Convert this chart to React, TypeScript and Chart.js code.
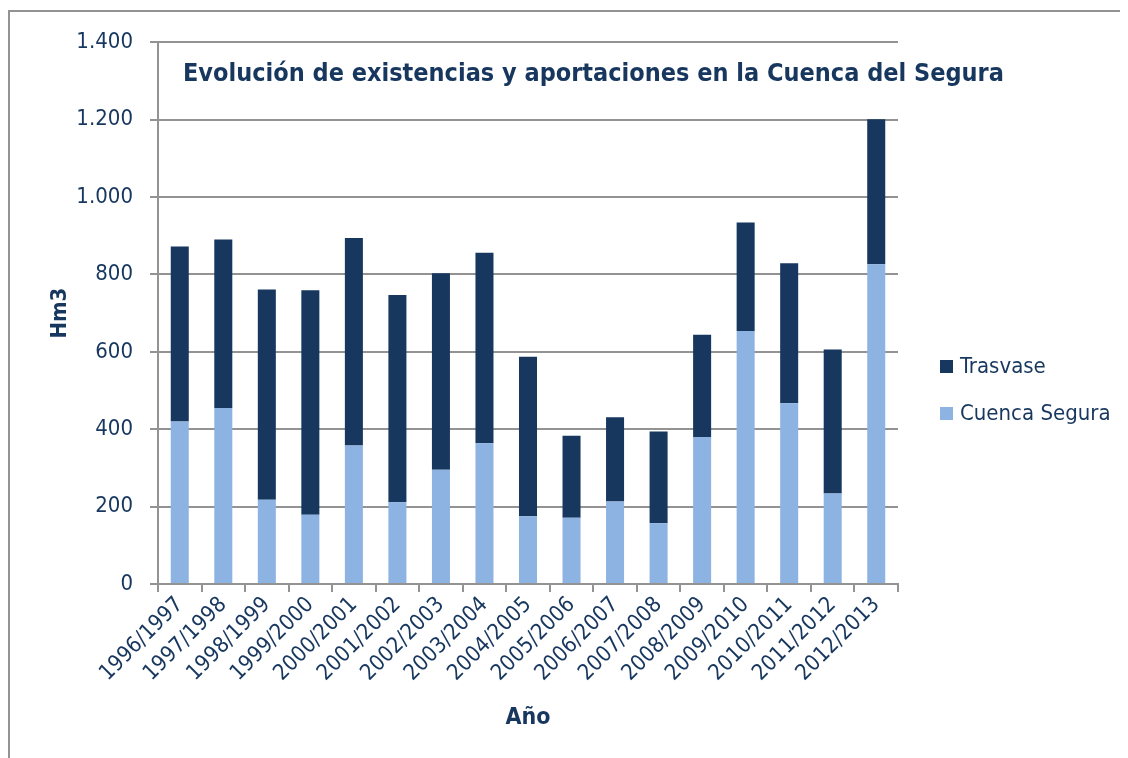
import { useEffect, useRef } from 'react';
import { Chart, registerables } from 'chart.js';

Chart.register(...registerables);

const categories = [
  '1996/1997', '1997/1998', '1998/1999', '1999/2000', '2000/2001', '2001/2002',
  '2002/2003', '2003/2004', '2004/2005', '2005/2006', '2006/2007', '2007/2008',
  '2008/2009', '2009/2010', '2010/2011', '2011/2012', '2012/2013',
];
const cuencaSegura = [420, 455, 218, 179, 358, 211, 295, 364, 175, 171, 213, 157, 380, 654, 467, 234, 826];
const trasvase = [452, 435, 543, 580, 536, 536, 508, 492, 412, 212, 218, 237, 264, 280, 362, 372, 375];
const yTicks = [0, 200, 400, 600, 800, 1000, 1200, 1400];

const TITLE = 'Evolución de existencias y aportaciones en la Cuenca del Segura';
const NAVY = '#17375E';
const LIGHT = '#8DB3E2';
const GRID = '#939393';
const FONT = '"Liberation Sans Narrow", "Arial Narrow", "DejaVu Sans Condensed", sans-serif';

const W = 1118;
const H = 746;

const overlay = {
  id: 'overlay',
  afterDraw(chart: any) {
    const ctx = chart.ctx;
    ctx.save();
    ctx.fillStyle = NAVY;
    ctx.font = `bold 25px ${FONT}`;
    ctx.textAlign = 'left';
    ctx.textBaseline = 'middle';
    ctx.fillText(TITLE, 173, 62);
    // legend
    const ds = chart.data.datasets.slice().reverse();
    ctx.font = `22px ${FONT}`;
    ds.forEach((d: any, i: number) => {
      const y = 355 + i * 47;
      ctx.fillStyle = d.backgroundColor;
      ctx.fillRect(930, y - 7, 13, 13);
      ctx.fillStyle = NAVY;
      ctx.fillText(d.label, 950, y);
    });
    ctx.restore();
  },
};

export default function App() {
  const ref = useRef<HTMLCanvasElement>(null);
  useEffect(() => {
    document.documentElement.style.overflow = 'hidden';
    const chart = new Chart(ref.current!, {
      type: 'bar',
      data: {
        labels: categories,
        datasets: [
          { label: 'Cuenca Segura', data: cuencaSegura, backgroundColor: LIGHT, barPercentage: 0.414, categoryPercentage: 1 },
          { label: 'Trasvase', data: trasvase, backgroundColor: NAVY, barPercentage: 0.414, categoryPercentage: 1 },
        ],
      },
      options: {
        animation: false,
        responsive: false,
        layout: { padding: { top: 28, right: 230, bottom: 23, left: 0 } },
        plugins: {
          legend: { display: false },
          tooltip: { enabled: false },
          title: { display: false },
        },
        scales: {
          x: {
            stacked: true,
            grid: { drawOnChartArea: false, drawTicks: true, tickLength: 8, color: GRID, lineWidth: 2 },
            border: { color: GRID, width: 2 },
            ticks: {
              autoSkip: false, minRotation: 45, maxRotation: 45, padding: 0,
              color: NAVY, font: { family: FONT, size: 22 },
            },
            title: {
              display: true, text: 'Año', color: NAVY,
              font: { family: FONT, size: 23, weight: 'bold' },
              padding: { top: 0, bottom: 3 },
            },
            afterFit: (s: any) => { s.height = 151; },
          },
          y: {
            stacked: true,
            min: 0,
            max: 1400,
            afterBuildTicks: (s: any) => { s.ticks = yTicks.map((v) => ({ value: v })); },
            grid: { color: GRID, lineWidth: 2, tickLength: 8 },
            border: { color: GRID, width: 2 },
            ticks: {
              padding: 17, color: NAVY, font: { family: FONT, size: 22 },
              callback: (v: any) => String(v).replace(/\B(?=(\d{3})+(?!\d))/g, '.'),
            },
            title: {
              display: true, text: 'Hm3', color: NAVY,
              font: { family: FONT, size: 22, weight: 'bold' },
              padding: { top: 37, bottom: 0 },
            },
            afterFit: (s: any) => { s.width = 148; },
          },
        },
      },
      plugins: [overlay],
    });
    return () => chart.destroy();
  }, []);
  return (
    <div style={{ marginTop: 2, width: W, borderTop: `2px solid ${GRID}`, borderLeft: `2px solid ${GRID}` }}>
      <canvas ref={ref} width={W} height={H} style={{ display: 'block', width: W, height: H }} />
    </div>
  );
}
